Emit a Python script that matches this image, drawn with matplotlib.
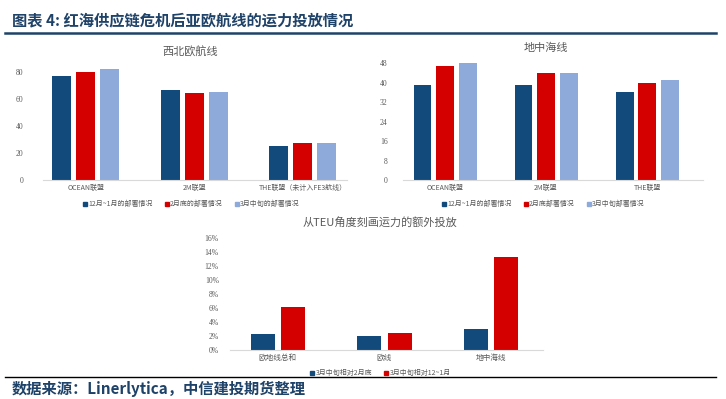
import matplotlib
matplotlib.use("Agg")
import matplotlib.pyplot as plt
from matplotlib.lines import Line2D
import numpy as np

plt.rcParams['font.family'] = ['Noto Sans CJK SC', 'DejaVu Sans']

# ---------------- data ----------------
nw_categories = ["OCEAN联盟", "2M联盟", "THE联盟（未计入FE3航线）"]
nw_dec_jan = [77.5, 66.5, 25.0]
nw_feb_end = [80.5, 64.5, 27.7]
nw_mar_mid = [82.2, 65.6, 27.7]
nw_legend = ["12月~1月的部署情况", "2月底的部署情况", "3月中旬的部署情况"]
nw_ticks = [0, 20, 40, 60, 80]

med_categories = ["OCEAN联盟", "2M联盟", "THE联盟"]
med_dec_jan = [39, 39, 36]
med_feb_end = [47, 44, 40]
med_mar_mid = [48, 44, 41]
med_legend = ["12月~1月的部署情况", "2月底部署情况", "3月中旬部署情况"]
med_ticks = [0, 8, 16, 24, 32, 40, 48]

teu_categories = ["欧地线总和", "欧线", "地中海线"]
teu_vs_feb = [2.35, 2.0, 3.05]
teu_vs_decjan = [6.15, 2.5, 13.35]
teu_legend = ["3月中旬相对2月底", "3月中旬相对12~1月"]
teu_ticks = [0, 2, 4, 6, 8, 10, 12, 14, 16]

title_text = "图表 4: 红海供应链危机后亚欧航线的运力投放情况"
source_text = "数据来源：Linerlytica，中信建投期货整理"

# ---------------- style ----------------
W, H = 726, 399
DARK = "#124a7c"
RED = "#d40000"
LIGHT = "#8eaadb"
GRAY = "#595959"
AXC = "#d9d9d9"
NAVY = "#1f4268"

fig = plt.figure(figsize=(W / 100, H / 100), dpi=100)


def ax_px(x0, y_top, x1, y_bot):
    return fig.add_axes([x0 / W, 1 - y_bot / H, (x1 - x0) / W, (y_bot - y_top) / H])


def style(ax, ticks, fmt, pad):
    for s in ["top", "right", "left"]:
        ax.spines[s].set_visible(False)
    ax.spines["bottom"].set_color(AXC)
    ax.spines["bottom"].set_linewidth(0.8)
    ax.set_yticks(ticks)
    ax.set_yticklabels([fmt(t) for t in ticks], family="Liberation Serif",
                       fontsize=5.5, color=GRAY)
    ax.tick_params(axis="y", length=0, pad=pad)
    ax.tick_params(axis="x", length=0, pad=3)
    ax.patch.set_alpha(0)


def legend(ax, labels, colors, cx, cy):
    handles = [Line2D([0], [0], marker="s", linestyle="none", markersize=3,
                      markerfacecolor=c, markeredgecolor=c) for c in colors]
    fig.legend(handles, labels, loc="center", bbox_to_anchor=(cx / W, 1 - cy / H),
               ncol=len(labels), frameon=False, fontsize=5, labelcolor=GRAY,
               handletextpad=0.1, columnspacing=1.6, handlelength=0.8)


# ---------- chart 1: 西北欧航线 ----------
ax1 = ax_px(43, 180 - 90 * 1.346, 347, 180)
x = np.arange(len(nw_categories))
bw, off = 0.175, 0.221
for vals, c, d in [(nw_dec_jan, DARK, -off), (nw_feb_end, RED, 0), (nw_mar_mid, LIGHT, off)]:
    ax1.bar(x + d, vals, width=bw, color=c)
ax1.set_xlim(-0.393, 2.407)
ax1.set_ylim(0, 90)
style(ax1, nw_ticks, lambda t: f"{t}", 14)
ax1.set_xticks(x)
ax1.set_xticklabels(nw_categories, fontsize=5, color=GRAY)
fig.text(190 / W, 1 - 52 / H, "西北欧航线", ha="center", va="center", fontsize=8, color=GRAY)
legend(ax1, nw_legend, [DARK, RED, LIGHT], 191, 204)

# ---------- chart 2: 地中海线 ----------
ax2 = ax_px(403, 63.3, 703, 180)
x = np.arange(len(med_categories))
bw, off = 0.178, 0.223
for vals, c, d in [(med_dec_jan, DARK, -off), (med_feb_end, RED, 0), (med_mar_mid, LIGHT, off)]:
    ax2.bar(x + d, vals, width=bw, color=c, clip_on=False)
ax2.set_xlim(-0.416, 2.554)
ax2.set_ylim(0, 48)
style(ax2, med_ticks, lambda t: f"{t}", 11)
ax2.set_xticks(x)
ax2.set_xticklabels(med_categories, fontsize=5, color=GRAY)
fig.text(546 / W, 1 - 48 / H, "地中海线", ha="center", va="center", fontsize=8, color=GRAY)
legend(ax2, med_legend, [DARK, RED, LIGHT], 543, 204)

# ---------- chart 3: 从TEU角度刻画运力的额外投放 ----------
ax3 = ax_px(230, 238.3, 543, 350)
x = np.arange(len(teu_categories))
bw, off = 0.225, 0.143
ax3.bar(x - off, teu_vs_feb, width=bw, color=DARK)
ax3.bar(x + off, teu_vs_decjan, width=bw, color=RED)
ax3.set_xlim(-0.45, 2.49)
ax3.set_ylim(0, 16)
style(ax3, teu_ticks, lambda t: f"{t}%", 8)
ax3.set_xticks(x)
ax3.set_xticklabels(teu_categories, fontsize=5.5, color=GRAY)
fig.text(380 / W, 1 - 222.5 / H, "从TEU角度刻画运力的额外投放", ha="center", va="center",
         fontsize=8, color=GRAY)
legend(ax3, teu_legend, [DARK, RED], 380, 373)

# ---------- header / footer ----------
fig.text(12 / W, 1 - 20 / H, title_text, ha="left", va="center", fontsize=11,
         fontweight="bold", color=NAVY)
fig.add_artist(Line2D([5 / W, 716 / W], [1 - 33 / H] * 2, color=NAVY, linewidth=1.8))
fig.add_artist(Line2D([5 / W, 716 / W], [1 - 376.5 / H] * 2, color="black", linewidth=1.0))
fig.text(12 / W, 1 - 389 / H, source_text, ha="left", va="center", fontsize=11,
         fontweight="bold", color=NAVY)

fig.savefig("out.png", dpi=100, facecolor="white")
